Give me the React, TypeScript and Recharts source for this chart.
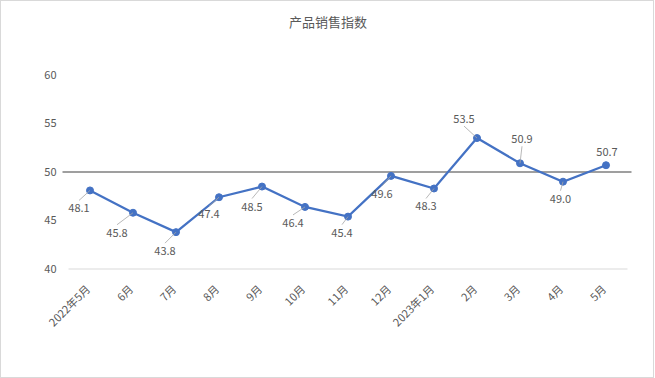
import React from "react";
import { LineChart, Line, XAxis, YAxis, ReferenceLine, LabelList } from "recharts";

const months = ["2022年5月", "6月", "7月", "8月", "9月", "10月", "11月", "12月", "2023年1月", "2月", "3月", "4月", "5月"];
const salesIndex = [48.1, 45.8, 43.8, 47.4, 48.5, 46.4, 45.4, 49.6, 48.3, 53.5, 50.9, 49.0, 50.7];
const yTicks = [40, 45, 50, 55, 60];
const title = "产品销售指数";

// label placement offsets relative to each point (style only)
const labelOffsets: [number, number][] = [
  [-11, 18], [-16, 20], [-11, 19], [-10, 17], [-10, 20], [-12, 16], [-6, 16],
  [-9, 18], [-8, 18], [-13, -19], [2, -24], [-2.5, 17], [1, -13],
];

const data = months.map((m, i) => ({ month: m, value: salesIndex[i] }));
const FONT = "'Noto Sans CJK SC', 'Noto Sans', sans-serif";

const PointLabel = (props: any) => {
  const { x, y, value, index } = props;
  const [dx, dy] = labelOffsets[index] || [0, -12];
  const cx = x + dx;
  const cy = y + dy;
  const below = dy > 0;
  const ly = below ? cy - 8 : cy + 7;
  const dist = Math.hypot(cx - x, ly - y);
  return (
    <g>
      {dist > 8 && (
        <line x1={cx} y1={ly} x2={x} y2={y} stroke="#a6a6a6" strokeWidth={0.8} />
      )}
      <text x={cx} y={cy + 4} textAnchor="middle" fontSize={11} fill="#595959" fontFamily={FONT}>
        {Number(value).toFixed(1)}
      </text>
    </g>
  );
};

const XTick = (props: any) => {
  const { x, y, payload } = props;
  return (
    <text
      x={x + 1}
      y={y + 13}
      textAnchor="end"
      fontSize={11}
      fill="#595959"
      fontFamily={FONT}
      transform={`rotate(-45 ${x + 1} ${y + 13})`}
    >
      {payload.value}
    </text>
  );
};

const RefShape = (props: any) => {
  const { x1, y1, x2, y2 } = props;
  return <line x1={x1 - 6} y1={y1} x2={x2 + 4} y2={y2} stroke="#404040" strokeWidth={1.2} />;
};

export default function App() {
  return (
    <div
      style={{
        position: "absolute",
        left: 0,
        top: 0,
        width: 654,
        height: 378,
        boxSizing: "border-box",
        border: "1px solid #d9d9d9",
        background: "#fff",
      }}
    >
      <div
        style={{
          position: "absolute",
          left: 0,
          top: 11,
          width: 654,
          textAlign: "center",
          fontFamily: FONT,
          fontSize: 13,
          color: "#595959",
        }}
      >
        {title}
      </div>
      <div style={{ position: "absolute", left: -1, top: -1 }}>
        <LineChart
          width={654}
          height={378}
          data={data}
          margin={{ top: 75, right: 26.5, left: 0, bottom: 0 }}
        >
          <XAxis
            dataKey="month"
            height={109}
            axisLine={{ stroke: "#d9d9d9" }}
            tickLine={false}
            interval={0}
            padding={{ left: 21.5, right: 21.5 }}
            tick={<XTick />}
          />
          <YAxis
            width={68.5}
            domain={[40, 60]}
            ticks={yTicks}
            axisLine={false}
            tickLine={false}
            tickSize={0}
            tickMargin={12}
            tick={{ fontSize: 11, fill: "#595959", fontFamily: FONT }}
          />
          <ReferenceLine y={50} shape={<RefShape />} />
          <Line
            type="linear"
            dataKey="value"
            stroke="#4472C4"
            strokeWidth={2.25}
            dot={{ r: 3.5, fill: "#4472C4", stroke: "#4472C4", strokeWidth: 1 }}
            isAnimationActive={false}
          >
            <LabelList dataKey="value" content={<PointLabel />} />
          </Line>
        </LineChart>
      </div>
    </div>
  );
}
